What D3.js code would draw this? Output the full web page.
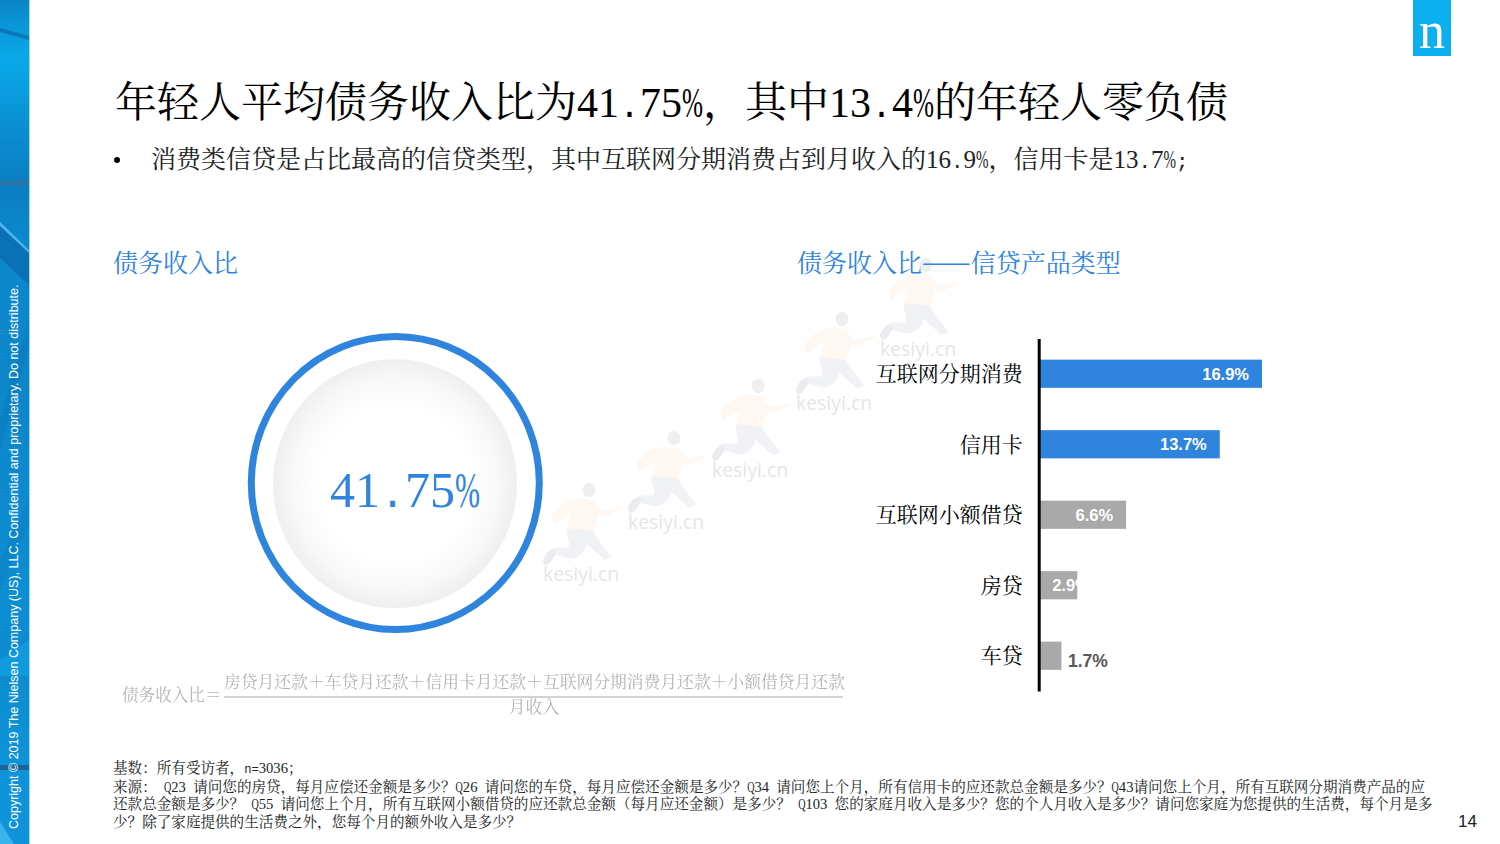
<!DOCTYPE html>
<html><head><meta charset="utf-8">
<script src="https://cdn.jsdelivr.net/npm/d3@7/dist/d3.min.js"></script>
<style>html,body{margin:0;padding:0;background:#fff;overflow:hidden}svg{display:block}</style>
</head><body><svg id="c" width="1500" height="844"></svg>
<script>
const categories=["互联网分期消费","信用卡","互联网小额借贷","房贷","车贷"];
const values=[16.9,13.7,6.6,2.9,1.7];
const valueLabels=["16.9%","13.7%","6.6%","2.9%","1.7%"];
const ratioLabel="41.75%";
const titleText="年轻人平均债务收入比为41.75%，其中13.4%的年轻人零负债";
const bulletText="消费类信贷是占比最高的信贷类型，其中互联网分期消费占到月收入的16.9%，信用卡是13.7%;";
const leftHeading="债务收入比";
const rightHeading="债务收入比——信贷产品类型";
const formulaLeft="债务收入比＝";
const formulaTop="房贷月还款＋车贷月还款＋信用卡月还款＋互联网分期消费月还款＋小额借贷月还款";
const formulaBottom="月收入";
const footnotes=["基数：所有受访者，n=3036；",
"来源： Q23 请问您的房贷，每月应偿还金额是多少？Q26 请问您的车贷，每月应偿还金额是多少？Q34 请问您上个月，所有信用卡的应还款总金额是多少？Q43请问您上个月，所有互联网分期消费产品的应",
"还款总金额是多少？ Q55 请问您上个月，所有互联网小额借贷的应还款总金额（每月应还金额）是多少？ Q103 您的家庭月收入是多少？您的个人月收入是多少？请问您家庭为您提供的生活费，每个月是多",
"少？除了家庭提供的生活费之外，您每个月的额外收入是多少？"];
const footY=[773,792,809,827];
const copyrightText="Copyright © 2019 The Nielsen Company (US), LLC. Confidential and proprietary. Do not distribute.";
const watermarks=[[543,574],[628,522],[712,470],[796,403],[880,349]];

const BLUE="#2f84de", GRAY="#a9a9a9";
const CJK="'Noto Serif CJK SC','Noto Sans CJK SC',sans-serif";
const svg=d3.select("#c");
const defs=svg.append("defs");
defs.append("filter").attr("id","soft").append("feGaussianBlur").attr("stdDeviation",.35);

function rich(sel,str,size){
  sel.attr("font-family",CJK).attr("font-size",size);
  const runs=str.match(/[0-9]+|[%Q]|[\x20-\x24\x26-\x2f\x3a-\x50\x52-\x7e]+|—+|[^\x20-\x7e—]+/g)||[];
  runs.forEach(r=>{
    const t=sel.append("tspan").text(r);
    if(/^[0-9]/.test(r)) t.attr("font-family","'Liberation Serif',serif");
    else if(r==="%"||r==="Q") t.attr("font-family","'Liberation Serif',serif").attr("textLength",size*.5).attr("lengthAdjust","spacingAndGlyphs");
    else if(/^—/.test(r)) t.attr("font-size",size*1.16).attr("font-weight",300);
    else if(/^[\x20-\x7e]/.test(r)) t.attr("font-family","'Liberation Mono',monospace").attr("font-size",size*0.8333);
  });
  return sel.attr("xml:space","preserve");
}

// left brand strip
const sg=defs.append("linearGradient").attr("id","strip").attr("x1",0).attr("y1",0).attr("x2",0).attr("y2",1);
[[0,"#0b86c8"],[.04,"#0a9bdc"],[.07,"#09a9ea"],[.15,"#0a8fd2"],[.22,"#0b7dc2"],[.28,"#0c88cc"],[.45,"#0c86c8"],[.7,"#0d8ed2"],[.8,"#0c8ccf"],[.9,"#0e93d8"],[1,"#0f92da"]]
 .forEach(s=>sg.append("stop").attr("offset",s[0]).attr("stop-color",s[1]));
svg.append("rect").attr("x",0).attr("y",0).attr("width",29).attr("height",844).attr("fill","url(#strip)");
svg.append("rect").attr("x",29).attr("y",0).attr("width",1).attr("height",844).attr("fill","#9fd6f5");
[["M0,28L29,36L29,40L0,32Z","#0a6fb0",.8],["M0,225L29,250L29,285L0,258Z","#0a6cb0",.8],["M0,222L29,250L29,253L0,226Z","#5cc4f2",.8],
 ["M0,420L29,320L29,345L0,450Z","#0a79bd",.55],["M0,560L29,500L29,525L0,590Z","#0a7fc2",.5],["M0,676L29,676L29,640L0,660Z","#12a4e6",.6],
 ["M0,181L29,181L29,185L0,185Z","#4a6a88",.6],["M0,765L29,765L29,770L0,770Z","#22507a",.7],["M0,822L14,844L0,844Z","#3db8ee",.9]]
 .forEach(p=>svg.append("path").attr("d",p[0]).attr("fill",p[1]).attr("opacity",p[2]));
svg.append("text").attr("transform","translate(18,829) rotate(-90)").attr("font-family","'Liberation Sans',Arial,sans-serif")
  .attr("font-size",12.5).attr("fill","#fff").text(copyrightText);

// logo
svg.append("rect").attr("x",1413).attr("y",0).attr("width",38).attr("height",56).attr("fill","#0db0ee");
svg.append("text").attr("x",1432).attr("y",48).attr("text-anchor","middle").attr("font-family","'Liberation Serif',serif")
  .attr("font-size",52).attr("fill","#fff").text("n");

// watermarks
const wm=svg.append("g").selectAll("g").data(watermarks).join("g").attr("transform",d=>`translate(${d[0]},${d[1]})`);
wm.append("path").attr("fill","#fef7f2").attr("d","M8,-57C14,-68 26,-74 34,-75L50,-74C52,-68 58,-64 62,-63L78,-67L78,-65L60,-57L56,-59L50,-44L24,-44L28,-60C22,-58 14,-52 11,-50Z");
wm.append("path").attr("fill","#f1f2f5").attr("stroke","#f1f2f5").attr("stroke-width",3).attr("d","M25,-44L49,-42C53,-33 62,-24 66,-18L62,-16C55,-22 46,-30 42,-33C42,-24 36,-18 28,-17L10,-21L12,-25L26,-25C30,-29 26,-36 25,-44Z");
wm.append("path").attr("fill","#eaecef").attr("stroke","#eaecef").attr("stroke-width",2).attr("d","M1,-14C3,-19 6,-24 11,-24C13,-22 12,-20 9,-16C7,-12 4,-10 2,-10Z");
wm.append("ellipse").attr("cx",46).attr("cy",-84).attr("rx",6.5).attr("ry",7).attr("fill","#eeeff1");
wm.append("text").attr("x",0).attr("y",7).attr("font-family","'Open Sans',sans-serif").attr("font-size",19.4).attr("fill","#e6e6e6").text("kesiyi.cn");

// title area
rich(svg.append("text").attr("x",115).attr("y",117).attr("fill","#000"),titleText,42);
svg.append("circle").attr("cx",117).attr("cy",160).attr("r",3).attr("fill","#000");
rich(svg.append("text").attr("x",151).attr("y",168).attr("fill","#222"),bulletText,25);
rich(svg.append("text").attr("x",113).attr("y",272).attr("fill",BLUE),leftHeading,25);
rich(svg.append("text").attr("x",797).attr("y",272).attr("fill",BLUE),rightHeading,25);

// ratio circle
const rg=defs.append("radialGradient").attr("id","ball");
[[0,"#ffffff"],[.62,"#ffffff"],[.85,"#f9f8f8"],[1,"#f0efef"]].forEach(s=>rg.append("stop").attr("offset",s[0]).attr("stop-color",s[1]));
svg.append("ellipse").attr("cx",395).attr("cy",483.7).attr("rx",122).attr("ry",124.5).attr("fill","url(#ball)");
svg.append("ellipse").attr("cx",395.3).attr("cy",483).attr("rx",144).attr("ry",146.5).attr("fill","none").attr("stroke",BLUE).attr("stroke-width",7);
rich(svg.append("text").attr("x",330).attr("y",507).attr("fill",BLUE),ratioLabel,50);

// formula
const fc="#b4b4b4";
const fg=svg.append("g").attr("filter","url(#soft)");
rich(fg.append("text").attr("x",122).attr("y",701).attr("fill",fc),formulaLeft,16.6);
rich(fg.append("text").attr("x",224).attr("y",688).attr("fill",fc),formulaTop,16.8);
fg.append("line").attr("x1",224).attr("x2",843).attr("y1",697).attr("y2",697).attr("stroke","#c4c4c4").attr("stroke-width",1.5);
rich(fg.append("text").attr("x",534).attr("y",713).attr("text-anchor","middle").attr("fill",fc),formulaBottom,16.8);

// bar chart
const x=d3.scaleLinear().domain([0,16.9]).range([1039,1262]);
const y=d3.scaleBand().domain(categories).range([338.5,691]).paddingInner(.6).paddingOuter(.3);
svg.append("g").selectAll("rect").data(categories).join("rect")
  .attr("x",x(0)).attr("y",d=>y(d)).attr("height",y.bandwidth())
  .attr("width",(d,i)=>x(values[i])-x(0)).attr("fill",(d,i)=>i<2?BLUE:GRAY);
const axis=d3.axisLeft(y).tickSize(0).tickPadding(16);
const ag=svg.append("g").attr("transform","translate(1038.7,0)").call(axis);
ag.select(".domain").attr("stroke","#000").attr("stroke-width",3);
ag.selectAll("text").attr("font-family",CJK).attr("font-size",21).attr("fill","#000").attr("dy",".36em");
svg.append("g").selectAll("text").data(categories).join("text")
  .attr("font-family","'Liberation Sans',Arial,sans-serif").attr("font-weight",700).attr("font-size",(d,i)=>i===4?17.5:16.5)
  .attr("x",(d,i)=>i===4?x(values[i])+6.5:(i===3?x(values[i])+12.5:x(values[i])-13))
  .attr("y",(d,i)=>y(d)+y.bandwidth()/2+6+(i===4?5:0))
  .attr("text-anchor",(d,i)=>i===4?"start":"end")
  .attr("fill",(d,i)=>i===4?"#595959":"#fff").text((d,i)=>valueLabels[i]);

// footnotes
footnotes.forEach((t,i)=>rich(svg.append("text").attr("x",113).attr("y",footY[i]).attr("fill","#222"),t,14.58));
svg.append("text").attr("x",1477).attr("y",827).attr("text-anchor","end").attr("font-family","'Liberation Sans',Arial,sans-serif")
  .attr("font-size",17).attr("fill","#222").text("14");
</script></body></html>
